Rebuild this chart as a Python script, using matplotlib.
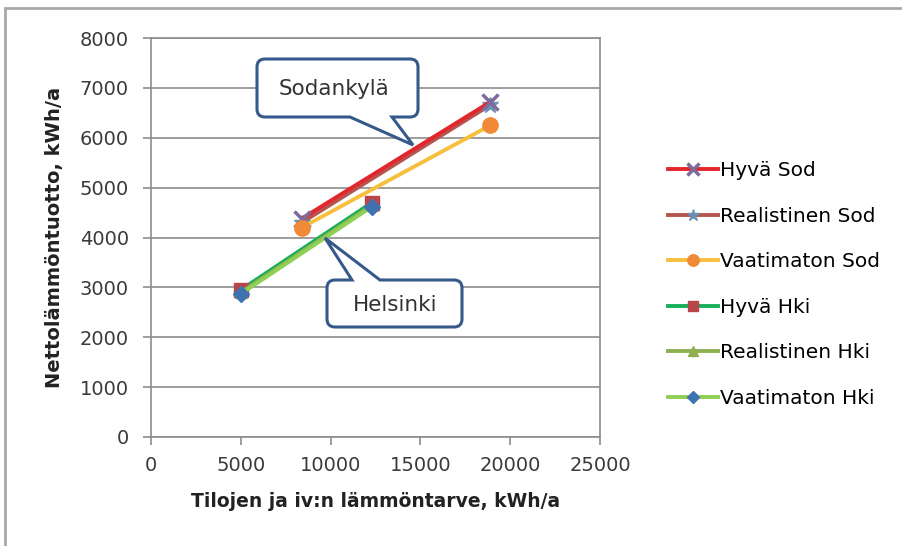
import numpy as np
import matplotlib.pyplot as plt
from matplotlib.path import Path
from matplotlib.patches import PathPatch, Rectangle

plt.rcParams['font.family'] = ['DejaVu Sans']

# data
series_names = ['Hyvä Sod', 'Realistinen Sod', 'Vaatimaton Sod',
                'Hyvä Hki', 'Realistinen Hki', 'Vaatimaton Hki']
sod_x = [8400, 18900]
hki_x = [5000, 12300]
hyva_sod = [4380, 6720]
real_sod = [4300, 6660]
vaat_sod = [4200, 6250]
hyva_hki = [2950, 4700]
real_hki = [2900, 4650]
vaat_hki = [2870, 4620]

line_colors = ['#E3262B', '#B5554F', '#F6C03E', '#16B05A', '#8DB04F', '#8ED054']
markers = ['x', '*', 'o', 's', '^', 'D']
marker_colors = ['#7F6A9E', '#6A8FB5', '#F08A36', '#B8454A', '#8FB050', '#3F72B0']
marker_sizes = [11, 12, 11, 10, 9, 8]

W, H = 902, 546
fig = plt.figure(figsize=(W / 100, H / 100), dpi=100)
ax = fig.add_axes([151 / W, 1 - 437 / H, (600 - 151) / W, (437 - 38) / H])

xs = [sod_x, sod_x, sod_x, hki_x, hki_x, hki_x]
ys = [hyva_sod, real_sod, vaat_sod, hyva_hki, real_hki, vaat_hki]
order = [1, 0, 2, 3, 4, 5]
for i in order:
    ax.plot(xs[i], ys[i], color=line_colors[i], lw=2.8, marker=markers[i],
            markersize=marker_sizes[i], markerfacecolor=marker_colors[i],
            markeredgecolor=marker_colors[i], markeredgewidth=2.5 if markers[i] == 'x' else 1,
            label=series_names[i], zorder=3)

ax.set_xlim(0, 25000)
ax.set_ylim(0, 8000)
ax.set_xticks(np.arange(0, 25001, 5000))
ax.set_yticks(np.arange(0, 8001, 1000))
ax.grid(axis='y', color='#8C8C8C', lw=1.2)
ax.set_axisbelow(True)
for s in ax.spines.values():
    s.set_color('#8C8C8C')
    s.set_linewidth(1.2)
ax.tick_params(axis='both', color='#8C8C8C', length=6, width=1.2, labelsize=14,
               labelcolor='#3a3a3a')
ax.tick_params(axis='x', pad=8)
ax.tick_params(axis='y', pad=10)
ax.set_xlabel('Tilojen ja iv:n lämmöntarve, kWh/a', fontsize=13.5, fontweight='bold',
              labelpad=12, color='#222222')
ax.set_ylabel('Nettolämmöntuotto, kWh/a', fontsize=14, fontweight='bold',
              labelpad=11, color='#222222')

handles, labels = ax.get_legend_handles_labels()
hmap = dict(zip(labels, handles))
fig.legend([hmap[n] for n in series_names], series_names, loc='upper left',
           bbox_to_anchor=(650 / W, 1 - 143 / H), frameon=False,
           fontsize=14.5, labelspacing=1.32, handlelength=2.5, handletextpad=0.1,
           markerscale=0.75)


def callout(x0, y0, x1, y1, base, tip, top_edge, r=8):
    # rounded box in pixel coords (y downward) with a wedge pointer
    def P(x, y):
        return (x / W, 1 - y / H)
    verts, codes = [], []

    def mv(x, y):
        verts.append(P(x, y)); codes.append(Path.MOVETO)

    def ln(x, y):
        verts.append(P(x, y)); codes.append(Path.LINETO)

    def cu(cx, cy, x, y):
        verts.extend([P(cx, cy), P(x, y)]); codes.extend([Path.CURVE3, Path.CURVE3])

    mv(x0 + r, y0)
    if top_edge:
        ln(base[0], y0); ln(*tip); ln(base[1], y0)
    ln(x1 - r, y0); cu(x1, y0, x1, y0 + r)
    ln(x1, y1 - r); cu(x1, y1, x1 - r, y1)
    if not top_edge:
        ln(base[1], y1); ln(*tip); ln(base[0], y1)
    ln(x0 + r, y1); cu(x0, y1, x0, y1 - r)
    ln(x0, y0 + r); cu(x0, y0, x0 + r, y0)
    verts.append(P(x0 + r, y0)); codes.append(Path.CLOSEPOLY)
    fig.add_artist(PathPatch(Path(verts, codes), transform=fig.transFigure,
                             facecolor='white', edgecolor='#35598A', lw=2.2, zorder=5))


callout(257, 59, 418, 117, (350, 392), (413, 145), False)
fig.text(334 / W, 1 - 89 / H, 'Sodankylä', fontsize=15.5, ha='center', va='center',
         color='#333333', zorder=6)
callout(327, 280, 462, 327, (352, 380), (325, 238), True)
fig.text(395 / W, 1 - 305 / H, 'Helsinki', fontsize=15.5, ha='center', va='center',
         color='#333333', zorder=6)

# outer chart border (only top and left visible in the crop)
fig.add_artist(Rectangle((5 / W, -0.1), 1.2, 1 - 8 / H + 0.1, transform=fig.transFigure,
                         fill=False, edgecolor='#A8A8A8', lw=2))

fig.savefig('out.png', dpi=100)
